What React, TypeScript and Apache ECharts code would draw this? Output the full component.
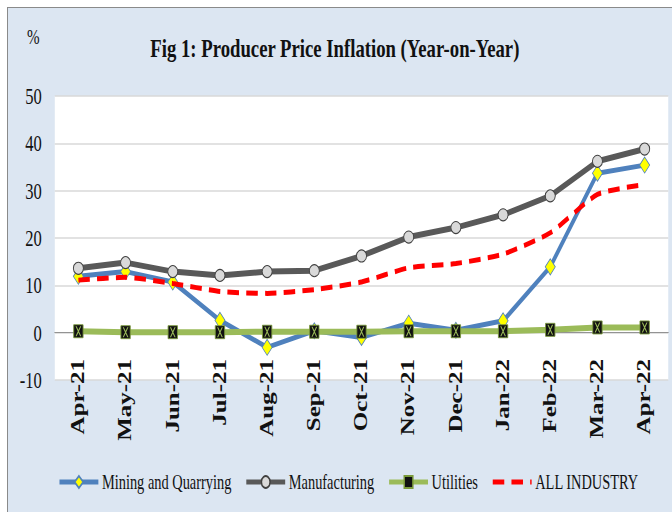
import React, { useEffect, useRef } from "react";
import * as echarts from "echarts";

const months = ["Apr-21", "May-21", "Jun-21", "Jul-21", "Aug-21", "Sep-21", "Oct-21", "Nov-21", "Dec-21", "Jan-22", "Feb-22", "Mar-22", "Apr-22"];
const mining = [11.9, 12.9, 10.7, 2.6, -3.1, 0.4, -1.0, 2.0, 0.5, 2.5, 13.9, 33.7, 35.4];
const manufacturing = [13.6, 14.8, 12.9, 12.1, 12.9, 13.1, 16.2, 20.2, 22.2, 24.9, 28.9, 36.2, 38.8];
const utilities = [0.3, 0.1, 0.1, 0.1, 0.2, 0.2, 0.2, 0.3, 0.3, 0.3, 0.6, 1.1, 1.1];
const allIndustry = [11.1, 11.7, 10.4, 8.7, 8.3, 9.1, 10.7, 13.7, 14.6, 16.6, 21.1, 29.2, 31.3];
const yTicks = { min: -10, max: 50, interval: 10 };

const SX = 0.72;
const W = 922;
const H = 504;
const FONT = '"Liberation Serif", "Times New Roman", serif';

export default function App() {
  const ref = useRef<HTMLDivElement>(null);
  useEffect(() => {
    if (!ref.current) return;
    const chart = echarts.init(ref.current, null, { renderer: "svg", width: W, height: H });
    chart.setOption({
      animation: false,
      backgroundColor: "transparent",
      textStyle: { fontFamily: FONT },
      title: [
        {
          text: "Fig 1: Producer Price Inflation (Year-on-Year)",
          left: 449,
          top: 22,
          textAlign: "center",
          textStyle: { fontFamily: FONT, fontSize: 26, fontWeight: "bold", color: "#111" },
        },
        {
          text: "%",
          left: 30,
          top: 14,
          textAlign: "center",
          textStyle: { fontFamily: FONT, fontSize: 21, fontWeight: "normal", color: "#111" },
        },
      ],
      grid: {
        left: 65,
        right: 5,
        top: 88,
        height: 284,
        show: true,
        backgroundColor: "#ffffff",
        borderWidth: 0,
      },
      legend: {
        data: [
          { name: "Mining and Quarrying", lineStyle: { width: 5 } },
          { name: "Manufacturing", lineStyle: { width: 5 } },
          { name: "Utilities", lineStyle: { width: 5 } },
          { name: "ALL INDUSTRY", itemStyle: { opacity: 0 }, lineStyle: { width: 5 } },
        ],
        left: 64,
        top: 459,
        itemWidth: 54,
        itemHeight: 15,
        itemGap: 18,
        lineStyle: { width: 5 },
        textStyle: { fontFamily: FONT, fontSize: 20, color: "#111" },
      },
      xAxis: {
        type: "category",
        data: months,
        boundaryGap: true,
        axisLine: { onZero: true, lineStyle: { color: "#868686", width: 1 } },
        axisTick: { show: false },
        axisLabel: {
          rotate: 90,
          margin: -21,
          fontFamily: FONT,
          fontSize: 25,
          fontWeight: "bold",
          color: "#111",
          interval: 0,
        },
      },
      yAxis: {
        type: "value",
        min: yTicks.min,
        max: yTicks.max,
        interval: yTicks.interval,
        axisLine: { show: false },
        axisTick: { show: false },
        axisLabel: { margin: 18, fontFamily: FONT, fontSize: 23, color: "#111" },
        splitLine: { lineStyle: { color: "#d9d9d9", width: 1.5 } },
      },
      series: [
        {
          name: "Mining and Quarrying",
          type: "line",
          data: mining,
          lineStyle: { color: "#4f81bd", width: 5 },
          symbol: "diamond",
          symbolSize: [14, 16],
          itemStyle: { color: "#ffff00", borderColor: "#4f81bd", borderWidth: 1 },
          z: 2,
        },
        {
          name: "Manufacturing",
          type: "line",
          data: manufacturing,
          lineStyle: { color: "#595959", width: 6 },
          symbol: "circle",
          symbolSize: [14, 12],
          itemStyle: { color: "#d9d9d9", borderColor: "#404040", borderWidth: 1.2 },
          z: 3,
        },
        {
          name: "Utilities",
          type: "line",
          data: utilities,
          lineStyle: { color: "#9bbb59", width: 6 },
          symbol: "rect",
          symbolSize: [13, 13],
          itemStyle: { color: "#111111", borderColor: "#7a9a3a", borderWidth: 1 },
          z: 4,
        },
        {
          name: "UtilitiesX",
          type: "line",
          data: utilities,
          lineStyle: { width: 0, opacity: 0 },
          symbol: "path://M0,0 L2,0 L10,10 L8,10 Z M8,0 L10,0 L2,10 L0,10 Z",
          symbolSize: [8, 10],
          itemStyle: { color: "#9bbb59" },
          silent: true,
          z: 5,
        },
        {
          name: "ALL INDUSTRY",
          type: "line",
          data: allIndustry,
          smooth: 0.2,
          lineStyle: { color: "#ff0000", width: 5, type: [16, 10] },
          symbol: "none",
          itemStyle: { color: "#ff0000" },
          z: 6,
        },
      ],
    });
    return () => chart.dispose();
  }, []);

  return (
    <div
      style={{
        position: "absolute",
        left: 7,
        top: 7,
        width: 665,
        height: 505,
        boxSizing: "border-box",
        borderLeft: "1px solid #8a8a8a",
        borderTop: "1px solid #8a8a8a",
        background: "#dce6f2",
        overflow: "hidden",
      }}
    >
      <div
        ref={ref}
        style={{ width: W, height: H, transform: `scaleX(${SX})`, transformOrigin: "0 0" }}
      />
    </div>
  );
}
